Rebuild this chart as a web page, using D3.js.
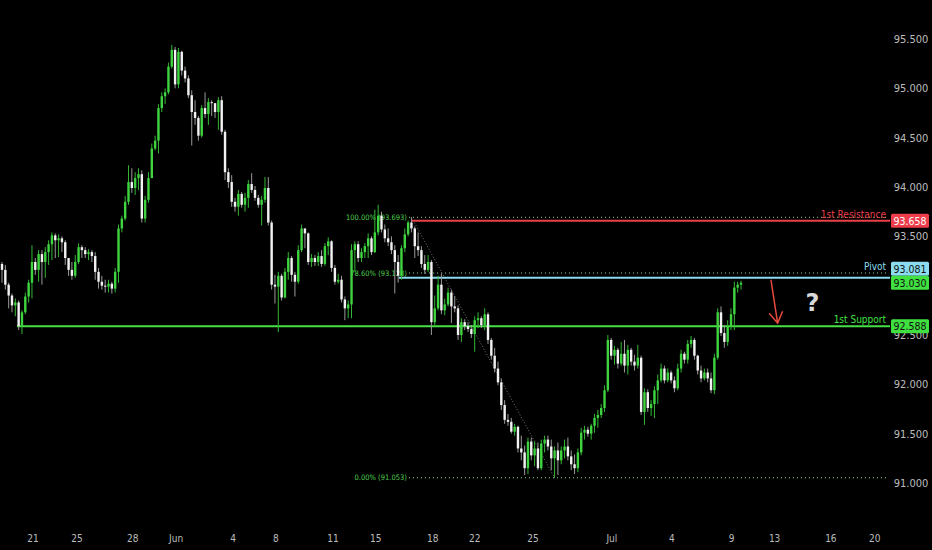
<!DOCTYPE html>
<html>
<head>
<meta charset="utf-8">
<script src="https://cdn.jsdelivr.net/npm/d3@7"></script>
<style>
body { margin: 0; background: #000; }
svg { display: block; }
</style>
</head>
<body>
<script>
// candles, one every 4h-ish; open of a bar = close of the bar before
var firstOpen = 93.22;

var closes = [
93.16, 93.01, 92.90, 92.80, 92.83, 92.59, 92.73, 92.89, 93.03, 93.24,
93.16, 93.32, 93.24, 93.34, 93.42, 93.51, 93.46, 93.48, 93.44, 93.28,
93.16, 93.10, 93.24, 93.39, 93.36, 93.32, 93.34, 93.30, 93.14, 93.04,
93.00, 92.99, 93.02, 92.97, 93.14, 93.58, 93.68, 93.85, 94.05, 93.99,
94.09, 94.13, 93.68, 93.87, 94.09, 94.39, 94.47, 94.80, 94.92, 94.96,
95.22, 95.39, 95.04, 95.37, 95.18, 95.10, 94.93, 94.76, 94.70, 94.52,
94.80, 94.74, 94.86, 94.85, 94.76, 94.88, 94.56, 94.15, 94.05, 93.85,
93.80, 93.93, 93.82, 93.89, 94.03, 93.97, 93.89, 93.82, 93.87, 93.99,
93.64, 93.01, 92.99, 93.10, 92.88, 93.14, 93.28, 93.11, 93.04, 93.36,
93.58, 93.53, 93.24, 93.28, 93.24, 93.30, 93.22, 93.40, 93.45, 93.18,
93.04, 93.06, 92.86, 92.77, 92.81, 93.36, 93.42, 93.28, 93.34, 93.40,
93.48, 93.34, 93.54, 93.71, 93.57, 93.48, 93.44, 93.36, 93.24, 93.10,
93.38, 93.52, 93.64, 93.58, 93.40, 93.36, 93.22, 93.16, 93.24, 92.63,
92.77, 93.01, 92.75, 92.81, 92.93, 92.79, 92.77, 92.50, 92.63, 92.59,
92.56, 92.51, 92.65, 92.67, 92.60, 92.71, 92.45, 92.29, 92.16, 92.02,
91.79, 91.64, 91.62, 91.52, 91.57, 91.35, 91.31, 91.15, 91.42, 91.28,
91.35, 91.15, 91.40, 91.44, 91.37, 91.25, 91.33, 91.23, 91.33, 91.37,
91.27, 91.19, 91.15, 91.31, 91.51, 91.54, 91.50, 91.58, 91.66, 91.69,
91.76, 91.94, 92.45, 92.29, 92.35, 92.21, 92.31, 92.19, 92.35, 92.23,
92.19, 92.27, 91.72, 91.92, 91.76, 91.80, 91.94, 92.04, 92.16, 92.04,
92.12, 92.04, 91.96, 92.16, 92.31, 92.25, 92.41, 92.45, 92.29, 92.14,
92.06, 92.12, 92.06, 91.94, 92.27, 92.73, 92.52, 92.43, 92.59, 92.71,
92.98, 93.01, 93.03
];

var highs = [
93.24, 93.21, 93.03, 92.92, 92.87, 92.85, 92.75, 92.93, 93.06, 93.41,
93.28, 93.36, 93.36, 93.39, 93.46, 93.54, 93.53, 93.52, 93.50, 93.46,
93.28, 93.24, 93.31, 93.43, 93.41, 93.39, 93.37, 93.36, 93.34, 93.18,
93.10, 93.06, 93.06, 93.04, 93.18, 93.62, 93.71, 93.91, 94.22, 94.19,
94.15, 94.19, 94.17, 93.91, 94.15, 94.44, 94.52, 94.84, 94.96, 95.00,
95.26, 95.44, 95.42, 95.41, 95.38, 95.22, 95.13, 94.98, 94.88, 94.72,
94.83, 94.96, 94.90, 94.88, 94.85, 94.91, 94.92, 94.58, 94.19, 94.12,
93.89, 93.97, 93.95, 93.94, 94.07, 94.14, 94.01, 93.92, 93.91, 94.10,
94.10, 93.66, 93.11, 93.14, 93.12, 93.18, 93.34, 93.30, 93.14, 93.41,
93.62, 93.58, 93.54, 93.32, 93.31, 93.34, 93.36, 93.43, 93.49, 93.46,
93.21, 93.12, 93.10, 92.89, 92.85, 93.42, 93.45, 93.45, 93.38, 93.43,
93.53, 93.50, 93.77, 93.82, 93.75, 93.62, 93.58, 93.50, 93.41, 93.31,
93.41, 93.58, 93.66, 93.693, 93.60, 93.54, 93.40, 93.31, 93.31, 93.26,
92.90, 93.10, 93.12, 92.87, 92.98, 92.96, 92.89, 92.80, 92.67, 92.66,
92.63, 92.60, 92.69, 92.73, 92.69, 92.77, 92.73, 92.47, 92.37, 92.23,
92.06, 91.84, 91.70, 91.66, 91.60, 91.58, 91.48, 91.38, 91.46, 91.46,
91.42, 91.41, 91.44, 91.48, 91.48, 91.44, 91.37, 91.41, 91.37, 91.44,
91.46, 91.33, 91.29, 91.35, 91.56, 91.58, 91.57, 91.60, 91.70, 91.74,
91.80, 91.99, 92.50, 92.47, 92.39, 92.37, 92.43, 92.45, 92.40, 92.37,
92.30, 92.40, 92.29, 91.96, 91.95, 91.84, 91.98, 92.10, 92.21, 92.19,
92.16, 92.14, 92.08, 92.21, 92.35, 92.33, 92.45, 92.49, 92.47, 92.30,
92.19, 92.16, 92.16, 92.12, 92.31, 92.77, 92.79, 92.60, 92.65, 92.77,
93.04, 93.04, 93.05
];

var lows = [
93.03, 92.96, 92.77, 92.73, 92.69, 92.55, 92.51, 92.71, 92.83, 92.87,
93.11, 93.04, 93.01, 93.08, 93.21, 93.26, 93.28, 93.29, 93.34, 93.21,
93.10, 93.06, 93.08, 93.22, 93.28, 93.28, 93.26, 93.24, 93.06, 92.97,
92.96, 92.93, 92.93, 92.92, 92.93, 93.03, 93.54, 93.66, 93.82, 93.94,
93.92, 93.97, 93.64, 93.64, 93.84, 94.09, 94.37, 94.34, 94.76, 94.84,
94.94, 95.20, 95.00, 95.00, 95.13, 95.06, 94.90, 94.42, 94.63, 94.47,
94.50, 94.70, 94.63, 94.72, 94.70, 94.58, 94.53, 94.07, 93.99, 93.80,
93.75, 93.71, 93.79, 93.75, 93.79, 93.94, 93.86, 93.79, 93.61, 93.84,
93.61, 92.96, 92.82, 92.53, 92.85, 92.87, 93.06, 93.04, 92.89, 93.02,
93.34, 93.38, 93.21, 93.19, 93.20, 93.20, 93.19, 93.20, 93.31, 93.14,
93.01, 93.02, 92.83, 92.65, 92.67, 92.67, 93.14, 93.24, 93.24, 93.28,
93.28, 93.31, 93.33, 93.51, 93.54, 93.44, 93.40, 93.32, 92.92, 93.03,
93.06, 93.34, 93.50, 93.54, 93.28, 93.30, 93.18, 93.12, 93.14, 92.50,
92.60, 92.75, 92.71, 92.70, 92.79, 92.62, 92.73, 92.45, 92.43, 92.55,
92.53, 92.47, 92.33, 92.57, 92.57, 92.55, 92.41, 92.25, 92.12, 91.99,
91.74, 91.60, 91.58, 91.50, 91.48, 91.31, 91.23, 91.08, 91.09, 91.23,
91.17, 91.13, 91.13, 91.31, 91.33, 91.13, 91.053, 91.08, 91.19, 91.25,
91.23, 91.13, 91.09, 91.11, 91.28, 91.44, 91.47, 91.44, 91.51, 91.56,
91.66, 91.72, 91.92, 92.25, 92.20, 92.16, 92.19, 92.12, 92.10, 92.19,
92.14, 92.16, 91.69, 91.59, 91.72, 91.68, 91.66, 91.80, 92.02, 92.01,
92.02, 92.01, 91.92, 91.94, 92.12, 92.21, 92.21, 92.37, 92.25, 92.10,
92.02, 92.04, 92.02, 91.91, 91.90, 92.25, 92.49, 92.37, 92.39, 92.55,
92.55, 92.93, 92.96
];

// 93.000 sits under the price boxes in the original, so it is left out
var priceTicks = [91, 91.5, 92, 92.5, 93.5, 94, 94.5, 95, 95.5];
var dateLabels = ["21", "25", "28", "Jun", "4", "8", "11", "15", "18", "22", "25", "Jul", "4", "9", "13", "16", "20"];
var dateIdx = [9.3, 22.5, 39.3, 52.3, 69.4, 82.3, 99.4, 112.3, 129.4, 142, 159.5, 183.2, 201.2, 219.2, 232.1, 249, 262.2];

var resistance = 93.658, pivot = 93.081, support = 92.588, lastPrice = 93.030;
var fibHigh = 93.693, fibLow = 91.053, fibMid = 0.786;
var fibHighIdx = 123, fibLowIdx = 166;

var width = 932, height = 550, plotRight = 890;
var font = "'DejaVu Sans Condensed', 'Liberation Sans Narrow', 'DejaVu Sans', sans-serif";

var candles = closes.map(function(c, i) {
    var o = i == 0 ? firstOpen : closes[i - 1];
    return { i: i, o: o, c: c, h: Math.max(highs[i], o, c), l: Math.min(lows[i], o, c) };
});

var x = d3.scaleLinear().domain([0, closes.length - 1]).range([2, 741]);
var y = d3.scaleLinear().domain([91, 95.5]).range([483, 39]);

var svg = d3.select("body").append("svg")
    .attr("width", width)
    .attr("height", height)
    .style("background", "#000");

var green = "#3fd43f", white = "#f2f2f2";

// fib levels (dotted) + labels
var fibMidPrice = fibLow + fibMid * (fibHigh - fibLow);
var fibs = [
    { p: fibHigh, t: "100.00% (" + fibHigh.toFixed(3) + ")" },
    { p: fibMidPrice, t: "78.60% (" + fibMidPrice.toFixed(3) + ")" },
    { p: fibLow, t: "0.00% (" + fibLow.toFixed(3) + ")" }
];

svg.selectAll(".fibline").data(fibs).enter().append("line")
    .attr("x1", 409)
    .attr("x2", plotRight - 2)
    .attr("y1", function(d) { return y(d.p); })
    .attr("y2", function(d) { return y(d.p); })
    .attr("stroke", "#8fd88f")
    .attr("stroke-width", 1)
    .attr("stroke-dasharray", "1,3");

svg.selectAll(".fibtext").data(fibs).enter().append("text")
    .attr("x", 407)
    .attr("y", function(d) { return y(d.p) + 2.5; })
    .attr("text-anchor", "end")
    .attr("font-family", font)
    .attr("font-size", 7.5)
    .attr("fill", "#4fcf4f")
    .text(function(d) { return d.t; });

// diagonal from swing high to swing low
svg.append("line")
    .attr("x1", x(fibHighIdx)).attr("y1", y(fibHigh))
    .attr("x2", x(fibLowIdx)).attr("y2", y(fibLow))
    .attr("stroke", "#777")
    .attr("stroke-width", 1)
    .attr("stroke-dasharray", "1,2");

// level lines
svg.append("line")
    .attr("x1", x(4.5)).attr("x2", plotRight)
    .attr("y1", y(support)).attr("y2", y(support))
    .attr("stroke", "#45e045").attr("stroke-width", 2);

svg.append("line")
    .attr("x1", x(119.2)).attr("x2", plotRight)
    .attr("y1", y(pivot)).attr("y2", y(pivot))
    .attr("stroke", "#8adcee").attr("stroke-width", 2);

svg.append("line")
    .attr("x1", x(123)).attr("x2", plotRight)
    .attr("y1", y(resistance)).attr("y2", y(resistance))
    .attr("stroke", "#e8404a").attr("stroke-width", 2);

// candles
var g = svg.append("g");
g.selectAll(".wick").data(candles).enter().append("line")
    .attr("x1", function(d) { return x(d.i); })
    .attr("x2", function(d) { return x(d.i); })
    .attr("y1", function(d) { return y(d.h); })
    .attr("y2", function(d) { return y(d.l); })
    .attr("stroke", function(d) { return d.c >= d.o ? "#34b834" : "#9a9a9a"; })
    .attr("stroke-width", 1);

g.selectAll(".body").data(candles).enter().append("rect")
    .attr("x", function(d) { return x(d.i) - 1.2; })
    .attr("width", 2.4)
    .attr("y", function(d) { return y(Math.max(d.o, d.c)); })
    .attr("height", function(d) { return Math.max(1, Math.abs(y(d.o) - y(d.c))); })
    .attr("fill", function(d) { return d.c >= d.o ? green : white; });

// price axis
svg.selectAll(".ptick").data(priceTicks).enter().append("text")
    .attr("x", 911)
    .attr("y", function(d) { return y(d) + 4; })
    .attr("text-anchor", "middle")
    .attr("font-family", font)
    .attr("font-size", 11)
    .attr("fill", "#bcbcbc")
    .text(function(d) { return d.toFixed(3); });

// date axis
svg.selectAll(".dtick").data(dateLabels).enter().append("text")
    .attr("x", function(d, i) { return x(dateIdx[i]); })
    .attr("y", 542)
    .attr("text-anchor", "middle")
    .attr("font-family", font)
    .attr("font-size", 10)
    .attr("fill", "#bcbcbc")
    .text(function(d) { return d; });

// level names
var names = [
    { p: resistance, t: "1st Resistance", c: "#e8404a" },
    { p: fibMidPrice, t: "Pivot", c: "#8adcee" },
    { p: support, t: "1st Support", c: "#45e045" }
];
svg.selectAll(".lname").data(names).enter().append("text")
    .attr("x", 886)
    .attr("y", function(d) { return y(d.p) - 3; })
    .attr("text-anchor", "end")
    .attr("font-family", font)
    .attr("font-size", 10)
    .attr("fill", function(d) { return d.c; })
    .text(function(d) { return d.t; });

// price boxes on the scale; pivot box is pushed up so it does not cover the last price
var boxes = [
    { p: resistance, cy: y(resistance), bg: "#ee3d4b", fg: "#fff" },
    { p: pivot, cy: y(lastPrice) - 14, bg: "#8adcee", fg: "#111" },
    { p: lastPrice, cy: y(lastPrice), bg: "#3fe03f", fg: "#111" },
    { p: support, cy: y(support), bg: "#3fe03f", fg: "#111" }
];
var bx = svg.selectAll(".box").data(boxes).enter().append("g");
bx.append("rect")
    .attr("x", 891)
    .attr("width", 38)
    .attr("y", function(d) { return d.cy - 7; })
    .attr("height", 14)
    .attr("rx", 1.5)
    .attr("fill", function(d) { return d.bg; });
bx.append("text")
    .attr("x", 910)
    .attr("y", function(d) { return d.cy + 4; })
    .attr("text-anchor", "middle")
    .attr("font-family", font)
    .attr("font-size", 10.5)
    .attr("fill", function(d) { return d.fg; })
    .text(function(d) { return d.p.toFixed(3); });

// arrow + question mark
var arrow = { i0: 231, p0: 93.06, i1: 233, p1: 92.62 };
var ax0 = x(arrow.i0), ay0 = y(arrow.p0), ax1 = x(arrow.i1), ay1 = y(arrow.p1);
var ang = Math.atan2(ay1 - ay0, ax1 - ax0), hl = 13;
svg.append("path")
    .attr("d", "M" + ax0 + "," + ay0 + "L" + ax1 + "," + ay1 +
        "M" + (ax1 - hl * Math.cos(ang - 0.55)) + "," + (ay1 - hl * Math.sin(ang - 0.55)) +
        "L" + ax1 + "," + ay1 +
        "L" + (ax1 - hl * Math.cos(ang + 0.55)) + "," + (ay1 - hl * Math.sin(ang + 0.55)))
    .attr("fill", "none")
    .attr("stroke", "#ea4a3c")
    .attr("stroke-width", 1.5);

svg.append("text")
    .attr("x", x(243.5))
    .attr("y", y(92.74))
    .attr("text-anchor", "middle")
    .attr("font-family", "'DejaVu Sans', sans-serif")
    .attr("font-weight", "bold")
    .attr("font-size", 24)
    .attr("fill", "#d8d8d8")
    .text("?");
</script>
</body>
</html>
